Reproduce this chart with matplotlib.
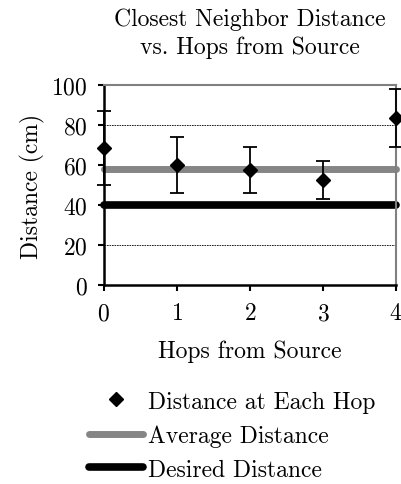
"""
Closest neighbor distance vs. hops from source.
"""

import matplotlib
matplotlib.use("Agg")
import matplotlib.pyplot as plt
from matplotlib.lines import Line2D

plt.rcParams["font.family"] = "serif"
plt.rcParams["font.serif"] = ["cmr10", "DejaVu Serif"]
plt.rcParams["mathtext.fontset"] = "cm"
plt.rcParams["axes.formatter.use_mathtext"] = True

# data
hops = [0, 1, 2, 3, 4]
distance = [68.5, 60, 57.5, 52.5, 83.5]
err_low = [18.5, 14, 11.5, 9.5, 14.5]
err_high = [18.5, 14, 11.5, 9.5, 14.5]
average_distance = 58
desired_distance = 40
y_ticks = [0, 20, 40, 60, 80, 100]

FS = 17

fig = plt.figure(figsize=(4.01, 4.85), dpi=100)
ax = fig.add_axes([0.259, 0.4103, 0.7285, 0.4124])

for y in [20, 80]:
    ax.axhline(y, color="black", linewidth=0.6, linestyle=(0, (2, 1)), zorder=1)

ax.plot(hops, [average_distance] * len(hops), color="#858585", linewidth=5,
        solid_capstyle="round", zorder=2, clip_on=False)
ax.plot(hops, [desired_distance] * len(hops), color="black", linewidth=5.5,
        solid_capstyle="round", zorder=2, clip_on=False)
ax.errorbar(hops, distance, yerr=[err_low, err_high], fmt="D", color="black",
            markersize=7.5, capsize=5, elinewidth=1.3, capthick=1.3,
            zorder=4, clip_on=False)

ax.set_xlim(0, 4)
ax.set_ylim(0, 100)
ax.set_xticks(hops)
ax.set_yticks(y_ticks)
ax.tick_params(axis="both", labelsize=FS, direction="out", width=1.5,
               length=4.5, pad=7)
ax.tick_params(axis="x", pad=8)
for side in ["left", "bottom"]:
    ax.spines[side].set_linewidth(1.8)
    ax.spines[side].set_color("black")
for side in ["top", "right"]:
    ax.spines[side].set_linewidth(1.5)
    ax.spines[side].set_color("#808080")

ax.set_xlabel("Hops from Source", fontsize=FS, labelpad=11)
ax.set_ylabel("Distance (cm)", fontsize=FS, labelpad=5)
ax.set_title("Closest Neighbor Distance\nvs. Hops from Source", fontsize=FS,
             pad=23, linespacing=1.3)

handles = [
    Line2D([], [], linestyle="none", marker="D", color="black", markersize=7.5),
    Line2D([], [], color="#858585", linewidth=5, solid_capstyle="round"),
    Line2D([], [], color="black", linewidth=5.5, solid_capstyle="round"),
]
labels = ["Distance at Each Hop", "Average Distance", "Desired Distance"]
fig.legend(handles, labels, loc="upper left", bbox_to_anchor=(0.222, 0.193),
           frameon=False, fontsize=FS, handlelength=2.3, handletextpad=0.2,
           labelspacing=0.5, borderaxespad=0, borderpad=0)

fig.savefig("out.png", dpi=100)
